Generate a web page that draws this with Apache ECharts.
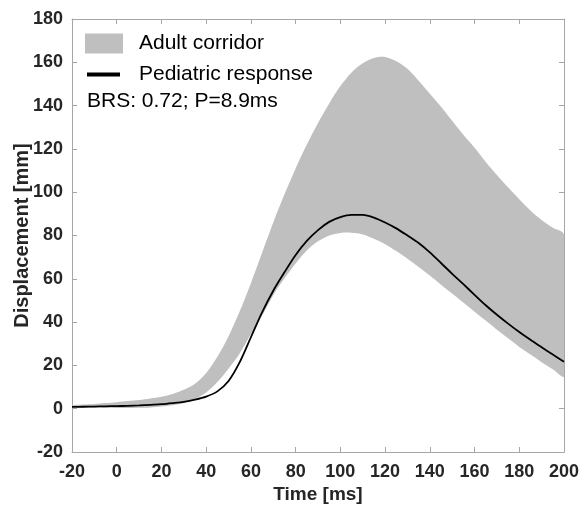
<!DOCTYPE html>
<html>
<head>
<meta charset="utf-8">
<script src="https://cdn.jsdelivr.net/npm/echarts@6/dist/echarts.min.js"></script>
<style>html,body{margin:0;padding:0;background:#fff;}#c{width:587px;height:507px;}</style>
</head>
<body>
<div id="c"></div>
<script>
const times = [-20,-15,-10,-5,0,5,10,15,20,25,30,35,40,45,50,55,60,65,70,75,80,85,90,95,100,105,110,115,120,125,130,135,140,145,150,155,160,165,170,175,180,185,190,195,200];
const corridorUpper = [1.5,1.9,2.2,2.6,3,3.5,4,4.7,5.5,6.8,8.7,11.5,16.5,24,33.5,45,58,72,86,99,111,122,132,141,149,155.3,159.6,162,162.5,160.5,157,151.5,145.5,139.5,133,126.5,120.5,114,108,102.3,96.8,91.6,87.2,83.6,80.5];
const corridorLower = [0.8,0.6,0.5,0.4,0.3,0.3,0.4,0.6,1,1.6,2.6,4.5,7.5,12.3,18.5,25.5,34.5,43,52.4,60.2,67.1,73.1,77.3,80,81.2,81.3,80.5,78.5,76,72.8,69.3,65.5,61.5,57.3,53.2,49,44.8,40.7,36.5,32.5,28.5,25,21.5,18.2,15];
const pediatric = [0.8,0.9,1,1.1,1.2,1.3,1.5,1.8,2.1,2.6,3.2,4.2,5.6,8,12.8,21.5,33,44.5,54.5,63,71,77.5,82.5,86.3,88.5,89.5,89.5,88.3,86,83.3,80,76.5,72.2,67.3,62.3,57.5,52.6,47.8,43.4,39.3,35.4,31.8,28.4,25,21.7];
const xTicks = {min:-20, max:200, interval:20};
const yTicks = {min:-20, max:180, interval:20};
const seriesNames = ['Adult corridor','Pediatric response'];
const annotation = 'BRS: 0.72; P=8.9ms';

const corridorData = times.map((t,i)=>[t, corridorLower[i], corridorUpper[i]]);
const pedData = times.map((t,i)=>[t, pediatric[i]]);

const FONT = 'Liberation Sans, Arial, sans-serif';
const axisCol = '#a6a6a6';
const labelStyle = {color:'#262626', fontSize:18, fontWeight:'bold', fontFamily:FONT};

function renderBand(params, api){
  if (params.dataIndex !== 0) return {type:'group', children:[]};
  const up = [], lo = [];
  for (let i = 0; i < corridorData.length; i++) {
    const d = corridorData[i];
    up.push(api.coord([d[0], d[2]]));
    lo.push(api.coord([d[0], d[1]]));
  }
  const pts = up.concat(lo.reverse());
  return {
    type:'polygon',
    shape:{points:pts, smooth:0.3},
    style:{fill:'#bfbfbf', stroke:null}
  };
}

const chart = echarts.init(document.getElementById('c'), null, {renderer:'canvas'});
chart.setOption({
  animation:false,
  backgroundColor:'#fff',
  grid:{left:72, right:23, top:19, bottom:55, containLabel:false, outerBoundsMode:'none'},
  xAxis:[{
    type:'value', min:xTicks.min, max:xTicks.max, interval:xTicks.interval, position:'bottom',
    name:'Time [ms]', nameLocation:'middle', nameGap:33, nameMoveOverlap:false,
    nameTextStyle:{color:'#262626', fontSize:19, fontWeight:'bold', fontFamily:FONT},
    axisLine:{show:true, onZero:false, lineStyle:{color:axisCol, width:1}},
    axisTick:{show:true, inside:true, length:5, lineStyle:{color:axisCol}},
    axisLabel:Object.assign({margin:11}, labelStyle),
    splitLine:{show:false}
  },{
    type:'value', min:xTicks.min, max:xTicks.max, interval:xTicks.interval, position:'top',
    axisLine:{show:true, onZero:false, lineStyle:{color:axisCol, width:1}},
    axisTick:{show:true, inside:true, length:5, lineStyle:{color:axisCol}},
    axisLabel:{show:false}, splitLine:{show:false}
  }],
  yAxis:[{
    type:'value', min:yTicks.min, max:yTicks.max, interval:yTicks.interval, position:'left',
    name:'Displacement [mm]', nameLocation:'middle', nameGap:40, nameMoveOverlap:false,
    nameTextStyle:{color:'#262626', fontSize:20, fontWeight:'bold', fontFamily:FONT},
    axisLine:{show:true, onZero:false, lineStyle:{color:axisCol, width:1}},
    axisTick:{show:true, inside:true, length:5, lineStyle:{color:axisCol}},
    axisLabel:Object.assign({margin:9}, labelStyle),
    splitLine:{show:false}
  },{
    type:'value', min:yTicks.min, max:yTicks.max, interval:yTicks.interval, position:'right',
    axisLine:{show:true, onZero:false, lineStyle:{color:axisCol, width:1}},
    axisTick:{show:true, inside:true, length:5, lineStyle:{color:axisCol}},
    axisLabel:{show:false}, splitLine:{show:false}
  }],
  legend:[{
    data:[{name:seriesNames[0], icon:'rect'}],
    left:85, top:33, padding:0, itemWidth:38, itemHeight:20,
    textStyle:{fontSize:21, color:'#000', fontFamily:FONT, padding:[0,0,0,11]},
    selectedMode:false
  },{
    data:[{name:seriesNames[1], icon:'rect'}],
    left:87, top:64, padding:0, itemWidth:33, itemHeight:4,
    textStyle:{fontSize:21, color:'#000', fontFamily:FONT, padding:[0,0,0,14]},
    selectedMode:false
  }],
  graphic:[{
    type:'text', left:87, top:91,
    style:{text:annotation, fontSize:21, fill:'#000', fontFamily:FONT}
  }],
  series:[{
    name:seriesNames[0], type:'custom', data:corridorData, renderItem:renderBand,
    encode:{x:0, y:[1,2]}, itemStyle:{color:'#bfbfbf'}, clip:true, silent:true, z:1
  },{
    name:seriesNames[1], type:'line', data:pedData, smooth:0.3, symbol:'none',
    itemStyle:{color:'#000'}, lineStyle:{color:'#000', width:1.8}, z:3
  }]
});
</script>
</body>
</html>
